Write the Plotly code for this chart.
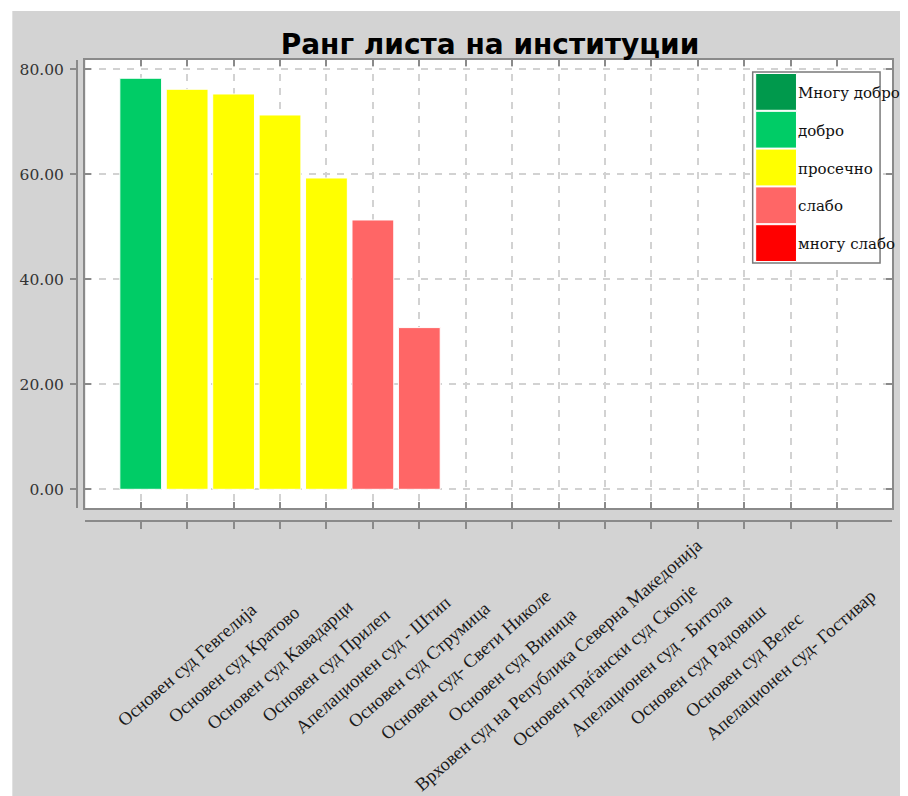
import plotly.graph_objects as go

# ---------------- data ----------------
institutions = [
    "Основен суд Гевгелија",
    "Основен суд Кратово",
    "Основен суд Кавадарци",
    "Основен суд Прилеп",
    "Апелационен суд - Штип",
    "Основен суд Струмица",
    "Основен суд- Свети Николе",
    "Основен суд Виница",
    "Врховен суд на Република Северна Македонија",
    "Основен граѓански суд Скопје",
    "Апелационен суд - Битола",
    "Основен суд Радовиш",
    "Основен суд Велес",
    "Апелационен суд- Гостивар",
]
scores = [78.3, 76.2, 75.3, 71.3, 59.3, 51.3, 30.8]
score_class = ["добро", "просечно", "просечно", "просечно", "просечно", "слабо", "слабо"]

legend_labels = ["Многу добро", "добро", "просечно", "слабо", "многу слабо"]
legend_colors = ["#00994c", "#00cc66", "#ffff00", "#ff6666", "#ff0000"]

y_ticks = [0, 20, 40, 60, 80]
n_slots = 16

# ---------------- geometry helpers (page pixels; page body has 8px margin) ----------------
OFF = 8
W, H = 900, 788
ML, MR, MT, MB = 65, 16, 52, 275
PW = W - ML - MR
PH = H - MT - MB


def px(x):
    return (x - OFF - ML) / PW


def py(y):
    return (H - MB - (y - OFF)) / PH


color_of = dict(zip(legend_labels, legend_colors))
bar_x = list(range(len(scores)))
bar_colors = [color_of[c] for c in score_class]

fig = go.Figure()
fig.add_trace(go.Bar(
    x=bar_x, y=scores, width=0.9,
    marker=dict(color=bar_colors, line=dict(color="white", width=1)),
    showlegend=False, hoverinfo="y",
))
fig.add_trace(go.Scatter(x=[None], y=[None], xaxis="x2", yaxis="y2",
                         showlegend=False, hoverinfo="skip"))

x_range = [-1.19, 16.18]
y_range = [-3.56, 81.77]
x_dom = [px(81.5), 1]
y_dom = [py(508), 1]
tickvals_x = list(range(n_slots))

axis_col = "#8a8a8a"
grid_col = "#d2d2d2"

fig.update_layout(
    width=W, height=H,
    margin=dict(l=ML, r=MR, t=MT, b=MB),
    paper_bgcolor="white",
    plot_bgcolor="white",
    title=dict(text="Ранг листа на институции", x=px(488), xref="paper",
               xanchor="center", y=1 - (44 - OFF) / H, yref="container", yanchor="middle",
               font=dict(family="DejaVu Sans", size=28, color="black", weight="bold")),
    xaxis=dict(range=x_range, domain=x_dom, anchor="free", position=0,
               tickvals=tickvals_x, showticklabels=False,
               ticks="outside", ticklen=7, tickwidth=2, tickcolor=axis_col,
               showline=True, linecolor=axis_col, linewidth=2,
               showgrid=True, gridcolor=grid_col, griddash="7px,7px", gridwidth=1.5,
               zeroline=False, fixedrange=True),
    yaxis=dict(range=y_range, domain=y_dom, anchor="free", position=0,
               tickvals=y_ticks, tickformat=".2f",
               ticks="outside", ticklen=6, tickwidth=2, tickcolor=axis_col,
               ticklabelstandoff=3,
               tickfont=dict(family="DejaVu Serif", size=15.5, color="#333333"),
               showline=True, linecolor=axis_col, linewidth=2,
               showgrid=True, gridcolor=grid_col, griddash="7px,7px", gridwidth=1.5,
               zeroline=False, fixedrange=True),
    xaxis2=dict(range=x_range, overlaying="x", anchor="y2", tickvals=tickvals_x,
                showticklabels=False, ticks="inside", ticklen=6, tickwidth=2,
                tickcolor=axis_col, showline=True, linecolor=axis_col, linewidth=2,
                mirror="allticks", showgrid=False, zeroline=False, fixedrange=True),
    yaxis2=dict(range=y_range, overlaying="y", anchor="x2", tickvals=y_ticks,
                showticklabels=False, ticks="inside", ticklen=6, tickwidth=2,
                tickcolor=axis_col, showline=True, linecolor=axis_col, linewidth=2,
                mirror="allticks", showgrid=False, zeroline=False, fixedrange=True),
    showlegend=False,
)

shapes = []
# grey page background
shapes.append(dict(type="rect", xref="paper", yref="paper", layer="below",
                   x0=px(8), x1=px(W + OFF + 2), y0=py(11), y1=py(H + OFF + 2),
                   fillcolor="#d3d3d3", line=dict(width=0)))
# white plotting area
shapes.append(dict(type="rect", xref="paper", yref="paper", layer="below",
                   x0=x_dom[0], x1=x_dom[1], y0=y_dom[0], y1=y_dom[1],
                   fillcolor="white", line=dict(width=0)))

# manual legend
lx0, lx1, ly0, ly1 = 752, 880, 72, 263
shapes.append(dict(type="rect", xref="paper", yref="paper", layer="above",
                   x0=px(lx0), x1=px(lx1), y0=py(ly0), y1=py(ly1),
                   fillcolor="white", line=dict(color="#7a7a7a", width=1.5)))
row_h = (ly1 - ly0 - 2) / len(legend_labels)
annotations = []
for i, (lab, col) in enumerate(zip(legend_labels, legend_colors)):
    top = ly0 + 1 + i * row_h
    shapes.append(dict(type="rect", xref="paper", yref="paper", layer="above",
                       x0=px(755), x1=px(796), y0=py(top + 0.5), y1=py(top + row_h - 0.5),
                       fillcolor=col, line=dict(color="white", width=1)))
    annotations.append(dict(xref="paper", yref="paper", x=px(796), y=py(top + row_h / 2 + 1),
                            xanchor="left", yanchor="middle", showarrow=False, text=lab,
                            font=dict(family="DejaVu Serif", size=15, color="#111111")))

# rotated category labels
for i, name in enumerate(institutions):
    annotations.append(dict(xref="x", yref="paper", x=i + 1, y=py(665),
                            xanchor="center", yanchor="middle", showarrow=False,
                            text=name, textangle=-41,
                            font=dict(family="Liberation Serif", size=18.5, color="#1a1a1a")))

fig.update_layout(shapes=shapes, annotations=annotations)

fig.write_html("out.html")
